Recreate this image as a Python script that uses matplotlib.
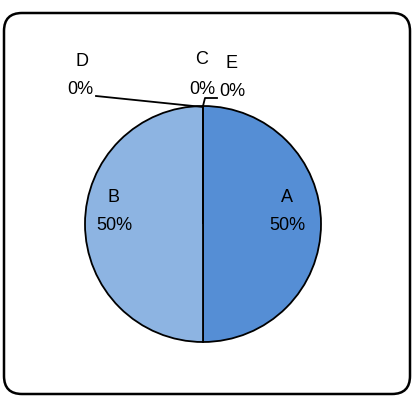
import matplotlib.pyplot as plt
from matplotlib.patches import FancyBboxPatch

labels = ["A", "B", "C", "D", "E"]
values = [50, 50, 0, 0, 0]
colors = ["#558ED5", "#8DB4E2", "#4F81BD", "#C0504D", "#9BBB59"]

W, H = 414, 397
fig = plt.figure(figsize=(W / 100, H / 100), dpi=100)
ax = fig.add_axes([0, 0, 1, 1])

# outer rounded frame
frame = FancyBboxPatch((4, 13), 406, 381, boxstyle="round,pad=0,rounding_size=18",
                       fc="white", ec="black", lw=1.8)
ax.add_patch(frame)

# pie in pixel coordinates (y axis flipped, so counterclock=True runs clockwise on screen)
cx, cy, r = 203, 224, 118
wedges, _ = ax.pie(values, colors=colors, startangle=-90, counterclock=True,
                   center=(cx, cy), radius=r, frame=True,
                   wedgeprops=dict(edgecolor="black", linewidth=1.3))
ax.set_xlim(0, W)
ax.set_ylim(H, 0)
ax.set_aspect("equal")
ax.axis("off")

fs = 13
font = "Liberation Sans"
pct = [f"{v}%" for v in values]

# A and B labels inside
ax.text(287, 197, labels[0], ha="center", va="center", fontsize=fs, family=font)
ax.text(287, 226, pct[0], ha="center", va="center", fontsize=fs, family=font)
ax.text(114, 197, labels[1], ha="center", va="center", fontsize=fs, family=font)
ax.text(114, 226, pct[1], ha="center", va="center", fontsize=fs, family=font)

# zero slices with leader lines
ax.text(202, 60, labels[2], ha="center", va="center", fontsize=fs, family=font)
ax.text(202, 89, pct[2], ha="center", va="center", fontsize=fs, family=font)
ax.text(232, 64, labels[4], ha="center", va="center", fontsize=fs, family=font)
ax.text(232, 92, pct[4], ha="center", va="center", fontsize=fs, family=font)
ax.text(82, 61, labels[3], ha="center", va="center", fontsize=fs, family=font)
ax.text(80, 90, pct[3], ha="center", va="center", fontsize=fs, family=font)

ax.plot([96, cx], [96, cy - r + 1], color="black", lw=1.3)
ax.plot([cx, cx + 2, cx + 14], [cy - r, 98, 98], color="black", lw=1.3)

fig.savefig("out.png", dpi=100)
